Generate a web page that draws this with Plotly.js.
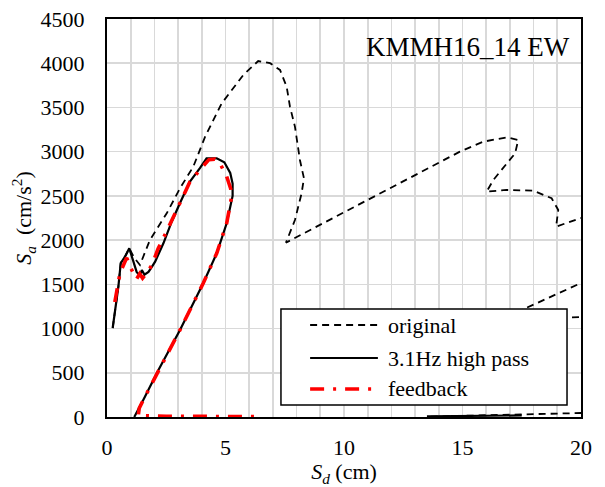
<!DOCTYPE html>
<html>
<head>
<meta charset="utf-8">
<script src="https://cdn.plot.ly/plotly-3.0.1.min.js"></script>
<style>
html,body{margin:0;padding:0;background:#fff;}
#chart{width:605px;height:487px;}
#chart text{font-family:"Liberation Serif","Times New Roman",Times,serif !important;}
</style>
</head>
<body>
<div id="chart"></div>
<script>
// ---- data (Sd in cm, Sa in cm/s^2) ----
const originalSd = [0.24, 0.48, 0.58, 0.76, 0.94, 1.15, 1.39, 1.81, 2.52, 3.08, 3.64, 4.14, 4.84, 5.75, 6.38, 6.88, 7.30, 7.58, 7.72, 7.93, 8.14, 8.31, 8.21, 7.93, 7.55, 14.89, 15.88, 16.86, 17.35, 17.22, 16.30, 16.02, 16.86, 17.99, 18.76, 19.04, 18.95, 19.96, 23.0, 24.0, 20.0, 17.8, 16.6, 20.0, 23.0, 25.0, 20.0, 16.0, 13.55];
const originalSa = [1006, 1473, 1741, 1813, 1907, 1800, 1719, 2001, 2303, 2586, 2830, 3169, 3546, 3867, 4025, 4000, 3924, 3735, 3509, 3283, 2906, 2699, 2529, 2227, 1971, 3000, 3113, 3162, 3132, 2981, 2680, 2548, 2567, 2559, 2473, 2341, 2152, 2247, 2400, 1900, 1515, 1244, 1100, 1131, 1120, 100, 45, 20, 3];

const highpassSd = [0.24, 0.48, 0.58, 0.76, 0.94, 1.00, 1.11, 1.25, 1.38, 1.47, 1.58, 1.75, 1.90, 2.03, 2.38, 2.73, 3.08, 3.50, 3.92, 4.20, 4.63, 4.95, 5.20, 5.30, 5.30, 5.05, 4.63, 4.06, 3.08, 2.17, 1.53, 1.15, null, 13.5, 15.5, 17.5];
const highpassSa = [1006, 1473, 1741, 1813, 1907, 1850, 1756, 1640, 1600, 1660, 1610, 1640, 1700, 1756, 1964, 2208, 2420, 2661, 2815, 2925, 2925, 2880, 2760, 2640, 2500, 2190, 1851, 1512, 984, 531, 192, 0, null, 8, 14, 18];

const feedbackSd = [0.33, 0.46, 0.55, 0.83, 1.00, 1.25, 1.38, 1.50, 1.65, 1.90, 2.15, 2.50, 3.08, 3.50, 4.00, 4.30, 4.55, 4.80, 5.05, 5.22, 5.25, 5.05, 4.63, 4.06, 3.08, 2.17, 1.53, 1.36, 1.32, 2.50, 4.50, 6.30];
const feedbackSa = [1300, 1480, 1630, 1800, 1685, 1560, 1620, 1570, 1620, 1720, 1900, 2090, 2420, 2660, 2820, 2910, 2915, 2850, 2720, 2580, 2480, 2190, 1851, 1512, 984, 531, 192, 98, 15, 8, 6, 5];

const seriesNames = ["original", "3.1Hz high pass", "feedback"];
const xTicks = [0, 5, 10, 15, 20];
const yTicks = [0, 500, 1000, 1500, 2000, 2500, 3000, 3500, 4000, 4500];
const chartLabel = "KMMH16_14 EW";

const FONT = '"Liberation Serif", "Times New Roman", Times, serif';

const styles = [
  {color: "#000000", width: 1.8, dash: "7px,5px"},
  {color: "#000000", width: 2.2, dash: "solid"},
  {color: "#ff0000", width: 3.6, dash: "14px,9px,3px,9px"}
];

const traces = [
  {x: originalSd, y: originalSa, name: seriesNames[0], type: "scatter", mode: "lines", line: styles[0], connectgaps: false},
  {x: highpassSd, y: highpassSa, name: seriesNames[1], type: "scatter", mode: "lines", line: styles[1], connectgaps: false},
  {x: feedbackSd, y: feedbackSa, name: seriesNames[2], type: "scatter", mode: "lines", line: styles[2], connectgaps: false}
];

// custom legend (drawn as shapes + text, in data coordinates)
const legBox = {x0: 7.34, x1: 19.41, y0: 136, y1: 1221};
const legRowsY = [1040, 667, 317];
const legLineX = [8.57, 11.43];
const legTextX = 11.77;

const shapes = [
  {type: "rect", xref: "x", yref: "y", x0: legBox.x0, x1: legBox.x1, y0: legBox.y0, y1: legBox.y1,
   fillcolor: "#ffffff", line: {color: "#000000", width: 1.5}, layer: "above"}
];
const annotations = [
  {text: chartLabel, xref: "x", yref: "y", x: 19.62, y: 4184, xanchor: "right", yanchor: "middle",
   showarrow: false, font: {family: FONT, size: 27, color: "#000"}}
];
seriesNames.forEach((n, i) => {
  shapes.push({type: "line", xref: "x", yref: "y", x0: legLineX[0], x1: legLineX[1], y0: legRowsY[i], y1: legRowsY[i],
    line: styles[i], layer: "above"});
  annotations.push({text: n, xref: "x", yref: "y", x: legTextX, y: legRowsY[i], xanchor: "left", yanchor: "middle",
    showarrow: false, font: {family: FONT, size: 22, color: "#000"}});
});

const gridColor = "#d9d9d9";
const layout = {
  width: 605, height: 487,
  margin: {l: 107, r: 24, t: 19, b: 70, pad: 0},
  paper_bgcolor: "#ffffff", plot_bgcolor: "#ffffff",
  showlegend: false,
  font: {family: FONT, size: 22, color: "#000"},
  xaxis: {
    range: [0, 20], tickvals: xTicks, ticktext: xTicks.map(String),
    showgrid: true, gridcolor: gridColor, gridwidth: 1.6,
    minor: {dtick: 1, showgrid: true, gridcolor: gridColor, gridwidth: 1.6, ticks: ""},
    showline: true, linecolor: "#000", linewidth: 2, mirror: true,
    ticks: "", zeroline: false, ticklabelstandoff: 10,
    tickfont: {family: FONT, size: 22, color: "#000"},
    title: {text: "<i>S<sub>d</sub></i> (cm)", font: {family: FONT, size: 22, color: "#000"}, standoff: 6}
  },
  yaxis: {
    range: [0, 4500], tickvals: yTicks, ticktext: yTicks.map(String),
    showgrid: true, gridcolor: gridColor, gridwidth: 1.6,
    showline: true, linecolor: "#000", linewidth: 2, mirror: true,
    ticks: "", zeroline: false, ticklabelstandoff: 16,
    tickfont: {family: FONT, size: 22, color: "#000"},
    title: {text: "<i>S<sub>a</sub></i>\u00a0\u00a0(cm/s<sup>2</sup>)", font: {family: FONT, size: 22, color: "#000"}}
  },
  shapes: shapes,
  annotations: annotations
};

Plotly.newPlot("chart", traces, layout, {displayModeBar: false, staticPlot: true});
</script>
</body>
</html>
